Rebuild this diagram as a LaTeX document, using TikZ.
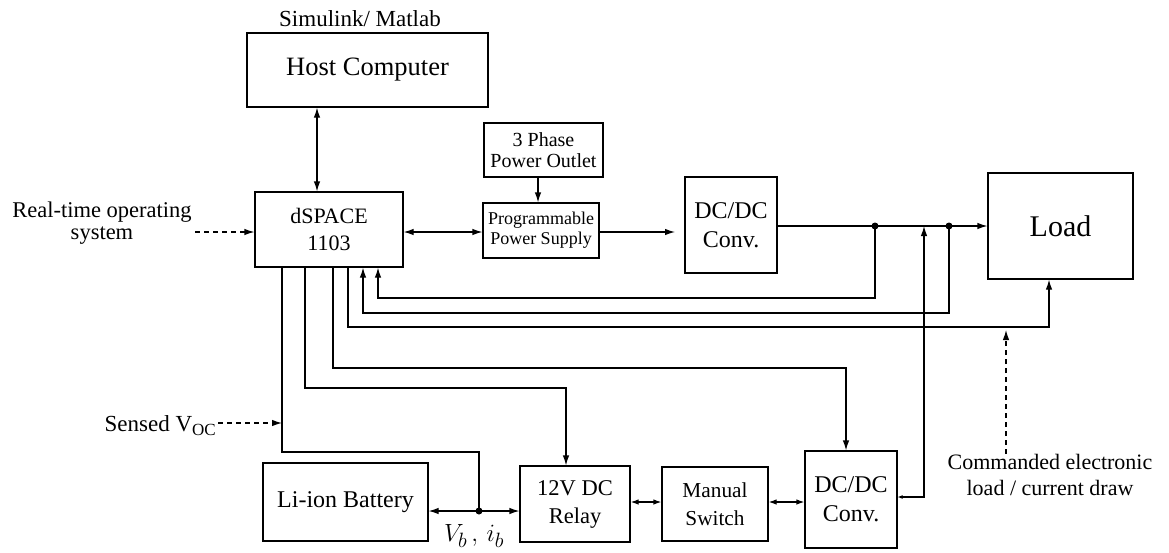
\documentclass[tikz,border=0pt]{standalone}
\usepackage{fontspec}
\setmainfont{Liberation Serif}
\usetikzlibrary{arrows.meta,calc}
\begin{document}
\begin{tikzpicture}[x=1pt,y=-1pt,
  box/.style={draw,line width=1.2pt,inner sep=0pt,align=center},
  lbl/.style={align=center,inner sep=0pt},
  fs/.style 2 args={font=\fontsize{#1}{#2}\selectfont},
  conn/.style={line width=1.2pt},
  arr/.style={conn,-{Latex[length=10pt,width=6.5pt]}},
  darr/.style={conn,{Latex[length=10pt,width=6.5pt]}-{Latex[length=10pt,width=6.5pt]}},
  sdarr/.style={conn,{Latex[length=8pt,width=5.5pt]}-{Latex[length=8pt,width=5.5pt]}},
  dasharr/.style={conn,dash pattern=on 5pt off 4pt,-{Latex[length=10pt,width=6.5pt]}},
  dot/.style={circle,fill,inner sep=0pt,minimum size=7pt}
]
\useasboundingbox (0,0) rectangle (1169,552);

% boxes
\node[box,minimum width=241pt,minimum height=74pt,fs={26.5}{30}] (host) at (367.5,70) {Host Computer};
\node[lbl,fs={23}{25}] (simu) at (360,19) {Simulink/ Matlab};
\node[box,minimum width=148pt,minimum height=75pt,fs={22}{27}] (dspace) at (329,229.5) {dSPACE\\1103};
\node[lbl,fs={22.5}{22}] (rtos) at (102,223) {Real-time operating\\system};
\node[box,minimum width=119pt,minimum height=54pt,fs={20}{21}] (outlet) at (543.5,150) {3 Phase\\Power Outlet};
\node[box,minimum width=116pt,minimum height=55pt,fs={18}{20}] (pps) at (541,230.5) {Programmable\\Power Supply};
\node[box,minimum width=92pt,minimum height=96pt,fs={24}{29}] (dc1) at (731,225) {DC/DC\\Conv.};
\node[box,minimum width=145pt,minimum height=106pt,fs={30}{32}] (load) at (1060.5,226) {Load};
\node[box,minimum width=165pt,minimum height=78pt,fs={24}{26}] (batt) at (345.5,502) {Li-ion Battery};
\node[box,minimum width=110pt,minimum height=76pt,fs={22.5}{28}] (relay) at (575,504) {12V DC\\Relay};
\node[box,minimum width=106pt,minimum height=74pt,fs={21.3}{28}] (switch) at (715,504) {Manual\\Switch};
\node[box,minimum width=92pt,minimum height=97pt,fs={24}{29}] (dc2) at (851,499.5) {DC/DC\\Conv.};
\node[lbl,fs={22}{26}] (cmd) at (1050,475) {Commanded electronic\\load / current draw};
\node[anchor=base east,fs={23}{25},inner sep=0pt] (voc) at (216,431) {Sensed V\raisebox{-4pt}{\fontsize{17}{17}\selectfont OC}};
\node[lbl,fs={24.88}{26}] (vbib) at (474,536) {$V_b\,,\,i_b$};

% coordinates
\coordinate (hx) at (317,0);
\coordinate (rtosS) at (195,232);
\coordinate (busY) at (0,232);
\coordinate (ox) at (538,0);
\coordinate (dcTip) at (675,232);
\coordinate (dcY) at (0,226);
\node[dot] (d1) at (875,226) {};
\node[dot] (d2) at (949,226) {};
\coordinate (f1) at (378,298);
\coordinate (f2) at (363,313);
\coordinate (f3) at (348,327);
\coordinate (l3) at (1049,327);
\coordinate (f4) at (333,368);
\coordinate (t4) at (846,368);
\coordinate (f5) at (305,388);
\coordinate (t5) at (566,388);
\coordinate (f6) at (282,452);
\node[dot] (d3) at (479,511) {};
\coordinate (vocA) at (218,423);
\coordinate (sy) at (0,502);
\coordinate (g1) at (924,497);
\coordinate (cx) at (1006,0);
\coordinate (cTip) at (1006,330);

% connectors
\draw[darr] (host.south -| hx) -- (dspace.north -| hx);
\draw[dasharr] (rtosS) -- (rtosS -| dspace.west);
\draw[darr] (dspace.east |- busY) -- (pps.west |- busY);
\draw[arr] (outlet.south -| ox) -- (pps.north -| ox);
\draw[arr] (pps.east |- busY) -- (dcTip);
\draw[arr] (dc1.east |- dcY) -- (load.west |- dcY);
\draw[arr] (d1.center) |- (f1) -- (f1 |- dspace.south);
\draw[arr] (d2.center) |- (f2) -- (f2 |- dspace.south);
\draw[arr] (f3 |- dspace.south) -- (f3) -- (l3) -- (l3 |- load.south);
\draw[arr] (f4 |- dspace.south) -- (f4) -- (t4) -- (t4 |- dc2.north);
\draw[arr] (f5 |- dspace.south) -- (f5) -- (t5) -- (t5 |- relay.north);
\draw[conn] (f6 |- dspace.south) -- (f6) -| (d3.center);
\draw[arr] (d3.center) -- (d3 -| batt.east);
\draw[arr] (d3.center) -- (d3 -| relay.west);
\draw[dasharr] (vocA) -- (vocA -| f6);
\draw[sdarr] (relay.east |- sy) -- (switch.west |- sy);
\draw[sdarr] (switch.east |- sy) -- (dc2.west |- sy);
\draw[conn,{Latex[length=5pt,width=4pt]}-{Latex[length=10pt,width=6.5pt]}] (dc2.east |- g1) -- (g1) -- (g1 |- dcY);
\draw[dasharr] (cmd.north -| cx) -- (cTip);
\end{tikzpicture}
\end{document}
